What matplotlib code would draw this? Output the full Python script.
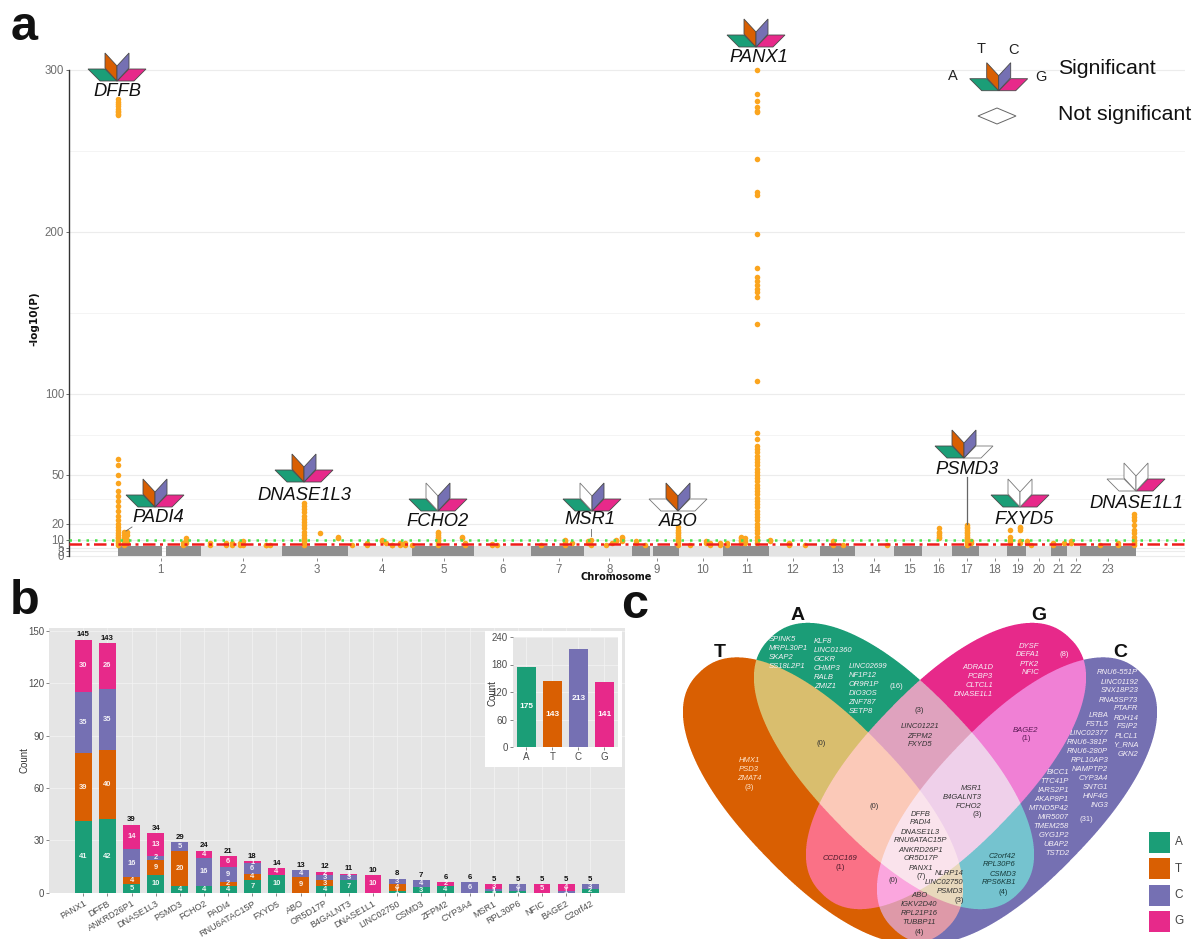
import numpy as np
import matplotlib
matplotlib.use("Agg")
import matplotlib.pyplot as plt
from matplotlib.patches import Polygon, Rectangle
from matplotlib.colors import to_rgb

plt.rcParams['font.family'] = ['Liberation Sans', 'DejaVu Sans']

W, H = 1192, 939
COL = dict(A='#1B9E77', T='#D95F02', C='#7570B3', G='#E7298A')
ORANGE = '#FBA51E'

# ---------------- panel a data ----------------
chrom_labels = [str(i) for i in range(1, 24)]
chrom_ticks = [160.7, 243, 317, 382, 444, 503, 559, 609.4, 656.6, 702.7, 747, 792.5,
               838, 874.4, 909.5, 938.6, 967, 995, 1018, 1038.6, 1058.7, 1076, 1107.7]
band_dark = [(118, 162), (166, 201), (282, 348), (412, 474), (531, 584), (632, 650),
             (653, 679), (723, 769), (820, 855), (894, 922), (952, 979), (1007, 1026),
             (1051, 1067), (1080, 1136)]
peak_pos = [118, 124, 127, 183, 186, 210, 226, 232, 240, 243, 266, 270, 303.5, 320, 338,
            352, 367, 382, 386, 392, 400, 405, 412, 438, 462, 465, 492, 497, 541, 565, 572,
            588, 591, 606, 612, 616, 622, 636, 645, 678, 690, 706, 710, 720, 727, 741,
            745, 757, 770, 789, 805, 833, 843, 887, 938.6, 967, 971, 1009.6, 1020, 1027,
            1031, 1053, 1064, 1071, 1100, 1118, 1134]
peak_vals = [
    [282, 280, 279, 278, 276, 275, 274, 273, 272, 60, 56, 50, 45, 40, 37, 34, 31, 28, 25, 22, 20,
     18, 16, 14, 13, 12, 11, 10, 9, 8, 7],
    [15, 13, 11, 9, 8, 7], [15, 13, 10, 8], [8, 7], [11, 10, 9, 8], [8, 7], [8, 7], [8, 7],
    [8, 7], [9, 7], [7, 6.5], [6.5], [33, 31, 29, 27, 25, 23, 21, 19, 17, 15, 13, 11, 10, 9, 8, 7],
    [14], [12, 11], [7], [8, 7], [10, 9], [8], [7, 6.5], [8, 7], [8, 7], [7],
    [15, 14, 13, 12, 11, 10, 9, 8, 7], [12, 11], [8, 7], [7.5, 6.5], [7], [7], [10, 9, 8, 7],
    [8], [9, 8], [10, 7], [7], [8], [9, 10], [12, 11, 10, 9], [9, 8], [7],
    [18, 16, 15, 14, 13, 12, 11, 10, 9, 8, 7], [7], [9, 8], [8, 7], [7, 8], [8, 7],
    [12, 11, 10, 9, 8], [11, 9, 8],
    [300, 285, 281, 277, 275, 274, 245, 225, 223, 199, 178, 172, 170, 167, 165, 163, 160, 143,
     108, 76, 72, 68, 66, 64, 62, 60, 58, 56, 54, 52, 50, 48, 46, 44, 42, 40, 38, 36, 34, 32, 30,
     28, 26, 24, 22, 20, 18, 16, 14, 12, 10, 8],
    [10, 9], [8, 7], [7], [9, 8, 7], [7], [7], [17, 15, 14, 13, 12, 11],
    [19, 18, 17, 16, 15, 14, 13, 12, 11, 10, 9, 8, 7], [9, 8], [16, 12, 10, 9, 8],
    [18, 17, 16, 9, 8], [9, 8], [7], [8, 7], [8], [9, 8], [7], [7, 8],
    [26, 24, 22, 19, 16, 14, 12, 10, 9, 8, 7],
]
line_suggestive = 10
line_significant = 7.5

genes = ['PANX1', 'DFFB', 'ANKRD26P1', 'DNASE1L3', 'PSMD3', 'FCHO2', 'PADI4', 'RNU6ATAC15P',
         'FXYD5', 'ABO', 'OR5D17P', 'B4GALNT3', 'DNASE1L1', 'LINC02750', 'CSMD3', 'ZFPM2',
         'CYP3A4', 'MSR1', 'RPL30P6', 'NFIC', 'BAGE2', 'C2orf42']
count_A = [41, 42, 5, 10, 4, 4, 4, 7, 10, 0, 4, 7, 0, 1, 3, 4, 0, 1, 1, 0, 0, 2]
count_T = [39, 40, 4, 9, 20, 0, 2, 4, 0, 9, 3, 0, 0, 4, 0, 0, 0, 0, 0, 0, 0, 0]
count_C = [35, 35, 16, 2, 5, 16, 9, 6, 0, 4, 3, 3, 0, 3, 4, 0, 6, 1, 4, 0, 1, 3]
count_G = [30, 26, 14, 13, 0, 4, 6, 1, 4, 0, 2, 1, 10, 0, 0, 2, 0, 3, 0, 5, 4, 0]
bases = ['A', 'T', 'C', 'G']
base_total = [175, 143, 213, 141]


def px_axes(l, t, r, b, **kw):
    return fig.add_axes([l / W, 1 - b / H, (r - l) / W, (b - t) / H], **kw)


fig = plt.figure(figsize=(W / 100, H / 100), dpi=100, facecolor='white')

# ---------------- panel a ----------------
ya0, ysc = 556, 1.62
ax = px_axes(69, 60, 1185, 558)
ax.set_xlim(69, 1185)
ax.set_ylim((ya0 - 558) / ysc, (ya0 - 60) / ysc)
for s in ['top', 'right', 'bottom', 'left']:
    ax.spines[s].set_visible(False)
ax.spines['left'].set_visible(True)
ax.spines['left'].set_bounds(0, 300)
ax.spines['left'].set_color('#333333')
ax.spines['left'].set_linewidth(1.0)
ax.set_yticks([0, 3, 5, 10, 20, 50, 100, 200, 300])
ax.set_yticklabels(['0', '3', '5', '10', '20', '50', '100', '200', '300'],
                   fontsize=8.3, color='#6e6e6e')
ax.set_yticks([15, 35, 75, 150, 250], minor=True)
ax.tick_params(axis='y', which='major', length=2.5, width=0.6, color='#555555', pad=1)
ax.tick_params(axis='y', which='minor', length=0)
ax.grid(axis='y', which='major', color='#ececec', lw=0.8)
ax.grid(axis='y', which='minor', color='#f3f3f3', lw=0.6)
ax.set_axisbelow(True)
ax.set_xticks(chrom_ticks)
ax.set_xticklabels(chrom_labels, fontsize=8.3, color='#6e6e6e')
ax.tick_params(axis='x', length=2.5, width=0.6, color='#777777', pad=2)
ax.add_patch(Rectangle((201, 0), 1136 - 201, 6, fc='#e3e3e3', ec='none', zorder=1.5))
for a, b in band_dark:
    ax.add_patch(Rectangle((a, 0), b - a, 6, fc='#8f8f8f', ec='none', zorder=1.6))
xs = np.concatenate([[p] * len(v) for p, v in zip(peak_pos, peak_vals)])
ys = np.concatenate(peak_vals)
ax.scatter(xs, ys, s=16, c=ORANGE, linewidths=0, zorder=2, clip_on=False)
ax.axhline(line_suggestive, color='#4be04b', lw=1.8, ls=(0, (1, 2.4)), zorder=3)
ax.axhline(line_significant, color='#ee1c1c', lw=1.8, ls=(0, (5, 1.8, 1.2, 1.8)), zorder=3)

# overlay in figure pixels
ov = fig.add_axes([0, 0, 1, 1], zorder=5)
ov.set_xlim(0, W)
ov.set_ylim(H, 0)
ov.axis('off')
ov.patch.set_alpha(0)


def T(x, y, s, size=5.5, color='#222222', ha='center', style='normal', weight='normal', **kw):
    ov.text(x, y, s, fontsize=size, color=color, ha=ha, va='center', style=style,
            fontweight=weight, **kw)


PETALS = dict(A=[(0, 0), (-17, 0), (-29, -12), (-12, -12)],
              G=[(0, 0), (17, 0), (29, -12), (12, -12)],
              T=[(0, 0), (0, -15), (-12, -28), (-12, -13)],
              C=[(0, 0), (0, -15), (12, -28), (12, -13)])


def glyph(cx, cy, filled='ATCG'):
    for b, pts in PETALS.items():
        ov.add_patch(Polygon([(cx + x, cy + y) for x, y in pts], closed=True,
                             fc=COL[b] if b in filled else 'white',
                             ec='#4a4a4a' if b in filled else '#777777', lw=0.6))


glyphs = [('DFFB', 117, 81, 'ATCG', 117, 92), ('PANX1', 756, 47, 'ATCG', 759, 58),
          ('PADI4', 155, 507, 'ATCG', 158, 517), ('DNASE1L3', 304, 482, 'ATCG', 304, 495),
          ('FCHO2', 438, 511, 'ACG', 437.5, 522), ('MSR1', 592, 511, 'ACG', 590, 519),
          ('ABO', 678, 511, 'TC', 678, 522), ('PSMD3', 964, 458, 'ATC', 967, 470),
          ('FXYD5', 1020, 507, 'AG', 1024, 519), ('DNASE1L1', 1136, 491, 'G', 1136, 503)]
for name, cx, cy, filled, lx, ly in glyphs:
    glyph(cx, cy, filled)
    T(lx, ly, name, size=13.2, color='#111111', style='italic')
ov.plot([967, 967], [477, 524], color='#666666', lw=0.9)
ov.plot([132, 126], [527, 531], color='#666666', lw=0.6)
ov.plot([591, 591], [529, 536], color='#666666', lw=0.6)

glyph(998.7, 90.7)
T(980.7, 49, 'T', size=10.5)
T(1013.5, 50, 'C', size=10.5)
T(953, 76, 'A', size=10.5)
T(1041, 77, 'G', size=10.5)
ov.add_patch(Polygon([(978, 116), (997, 108), (1016, 116), (997, 124)], closed=True,
                     fc='white', ec='#666666', lw=0.7))
T(1058, 68, 'Significant', size=15.3, ha='left', color='#111111')
T(1058, 114, 'Not significant', size=15.3, ha='left', color='#111111')
T(24, 27, 'a', size=35, weight='bold', color='#111111')
T(25, 601, 'b', size=35, weight='bold', color='#111111')
T(635, 605, 'c', size=35, weight='bold', color='#111111')
T(616, 577, 'Chromosome', size=7, weight='bold', color='#111111', family='DejaVu Sans')
T(34, 319, '-log10(P)', size=7.6, weight='bold', color='#111111', rotation=90, family='DejaVu Sans')

# ---------------- panel b ----------------
bx = px_axes(49, 628, 625, 892.7)
bx.set_facecolor('#e5e5e5')
pos = np.arange(len(genes))
bx.set_xlim(-1.42, 22.44)
bx.set_ylim(0, 151.7)
for s in bx.spines.values():
    s.set_visible(False)
bx.grid(True, color='#f4f4f4', lw=0.5)
bx.set_axisbelow(True)
bottom = np.zeros(len(genes))
for base, vals in zip(bases, [count_A, count_T, count_C, count_G]):
    bx.bar(pos, vals, 0.7, bottom=bottom, color=COL[base], lw=0)
    for i, v in enumerate(vals):
        if v:
            bx.text(i, bottom[i] + v / 2, str(v), color='white', fontsize=5.4, fontweight='bold',
                    ha='center', va='center', alpha=0.9)
    bottom = bottom + np.array(vals)
for i, t in enumerate(bottom):
    bx.text(i, t + 0.8, str(int(t)), color='#111111', fontsize=5.6, fontweight='bold',
            ha='center', va='bottom')
bx.set_yticks(range(0, 151, 30))
bx.set_xticks(pos)
bx.set_xticklabels(genes, rotation=30, ha='right', rotation_mode='anchor')
bx.tick_params(axis='y', labelsize=7, length=2, width=0.5, color='#555555', labelcolor='#4d4d4d', pad=1.5)
bx.tick_params(axis='x', labelsize=6.5, length=2, width=0.5, color='#555555', labelcolor='#4d4d4d', pad=2.5)
T(25, 760, 'Count', size=7, rotation=90, color='#333333')

# inset
ov.add_patch(Rectangle((485, 631), 136.7, 136, fc='white', ec='none'))
ix = px_axes(512.7, 637, 618, 747, zorder=6)
ix.set_facecolor('#e5e5e5')
for s in ix.spines.values():
    s.set_visible(False)
ix.grid(True, color='#f4f4f4', lw=0.5)
ix.set_axisbelow(True)
ix.bar(range(4), base_total, 0.7, color=[COL[b] for b in bases], lw=0)
for i, v in enumerate(base_total):
    ix.text(i, v / 2, str(v), color='white', fontsize=6, fontweight='bold', ha='center', va='center')
ix.set_xlim(-0.53, 3.52)
ix.set_ylim(0, 240)
ix.set_yticks([0, 60, 120, 180, 240])
ix.set_xticks(range(4))
ix.set_xticklabels(bases)
ix.tick_params(labelsize=7, length=2, width=0.5, color='#555555', labelcolor='#4d4d4d', pad=1.5)
ix.patch.set_zorder(0)
fig.text(492 / W, 1 - 693 / H, 'Count', fontsize=7, rotation=90, color='#333333',
         ha='center', va='center', zorder=7)

# ---------------- panel c: Venn ----------------
ELL = dict(T=(823, 800.5, 46), A=(894, 766, 46), G=(946, 766, -46), C=(1017, 800.5, -46))
MAJOR, MINOR, ROUND = 178, 80, 2.25
REGION = {'T': '#D95F02', 'A': '#1B9E77', 'G': '#E7298A', 'C': '#7570B3',
          'AT': '#D9BE6E', 'AG': '#DFA3BE', 'CG': '#F080D5', 'GT': '#FA7186', 'AC': '#75C3CF',
          'CT': '#DE9AA8', 'AGT': '#FBC9B9', 'ACG': '#EFD0EA', 'CGT': '#FBA6DE',
          'ACT': '#E8D8BC', 'ACGT': '#FAE3EC'}
SS = 4
vx0, vx1, vy0, vy1 = 670, 1170, 610, 945
gx = (np.arange((vx1 - vx0) * SS) + 0.5) / SS + vx0
gy = (np.arange((vy1 - vy0) * SS) + 0.5) / SS + vy0
X, Y = np.meshgrid(gx, gy)
member = {}
for k, (cx, cy, ang) in ELL.items():
    t = np.deg2rad(ang)
    u = (X - cx) * np.cos(t) + (Y - cy) * np.sin(t)
    v = -(X - cx) * np.sin(t) + (Y - cy) * np.cos(t)
    member[k] = np.abs(u / MAJOR) ** ROUND + np.abs(v / MINOR) ** ROUND <= 1
img = np.ones(X.shape + (4,))
img[..., 3] = 0
for key, col in REGION.items():
    m = np.ones(X.shape, bool)
    for k in 'ATCG':
        m &= member[k] if k in key else ~member[k]
    img[m] = to_rgb(col) + (1,)
# box-average down to figure pixels for clean edges
small = img.reshape(img.shape[0] // SS, SS, img.shape[1] // SS, SS, 4)
alpha = small[..., 3].mean(axis=(1, 3))
rgb = (small[..., :3] * small[..., 3:]).sum(axis=(1, 3)) / np.maximum(small[..., 3].sum(axis=(1, 3)), 1e-6)[..., None]
ov.imshow(np.dstack([rgb, alpha]), extent=(vx0, vx1, vy1, vy0), interpolation='nearest', zorder=1, aspect='auto')
ov.set_xlim(0, W)
ov.set_ylim(H, 0)

WT = '#f6f0f6'
DK = '#333333'


def block(x, y0, lines, ha='center', color=DK, step=9.0):
    for i, s in enumerate(lines):
        T(x, y0 + i * step, s, ha=ha, color=color, style='italic', zorder=3)


block(769, 639.3, ['SPINK5', 'MRPL30P1', 'SKAP2', 'SS18L2P1'], 'left', WT)
block(814, 641.7, ['KLF8', 'LINC01360', 'GCKR', 'CHMP3', 'RALB', 'ZMIZ1'], 'left', WT)
block(848.3, 666.7, ['LINC02699', 'NF1P12', 'OR9R1P', 'DIO3OS', 'ZNF787', 'SETP8'], 'left', WT)
T(896.7, 686.7, '(16)', color=WT)
block(749, 760.3, ['HMX1', 'PSD3', 'ZMAT4'], color='#ffe3c8')
T(749, 787.7, '(3)', color='#ffe3c8')
T(820.7, 743.7, '(0)', color=DK)
T(919, 710, '(3)', color=DK)
block(920, 727, ['LINC01221', 'ZFPM2', 'FXYD5'])
T(874, 806.7, '(0)', color=DK)
block(920.7, 814, ['DFFB', 'PADI4', 'DNASE1L3', 'RNU6ATAC15P', 'ANKRD26P1', 'OR5D17P', 'PANX1'])
T(920.7, 876, '(7)', color=DK)
block(840, 859, ['CCDC169'], color='#4a1a2a')
T(840, 867.7, '(1)', color='#4a1a2a')
T(893, 880, '(0)', color=DK)
block(919, 895.3, ['ABO', 'IGKV2D40', 'RPL21P16', 'TUBBP11'])
T(919, 932.3, '(4)', color=DK)
block(963.3, 873.7, ['NLRP14', 'LINC02750', 'PSMD3'], 'right')
T(959.3, 900.3, '(3)', color=DK)
block(1016, 856, ['C2orf42', 'RPL30P6', 'CSMD3', 'RPS6KB1'], 'right', '#163a3a')
T(1003, 892, '(4)', color='#163a3a')
block(981.7, 788.3, ['MSR1', 'B4GALNT3', 'FCHO2'], 'right')
T(976.7, 814.3, '(3)', color=DK)
block(1026, 730, ['BAGE2'], color='#5a1a55')
T(1026, 738.7, '(1)', color='#5a1a55')
block(1039.3, 646, ['DYSF', 'DEFA1', 'PTK2', 'NFIC'], 'right', WT)
T(1064.3, 654.3, '(8)', color=WT)
block(993.3, 667.3, ['ADRA1D', 'PCBP3', 'CLTCL1', 'DNASE1L1'], 'right', WT)
block(1138.3, 673, ['RNU6-551P', 'LINC01192', 'SNX18P23', 'RNA5SP73', 'PTAFR'], 'right', WT)
block(1138.3, 718, ['RDH14', 'FSIP2', 'PLCL1', 'Y_RNA', 'GKN2'], 'right', WT)
block(1108.3, 715.7, ['LRBA', 'FSTL5', 'LINC02377', 'RNU6-381P', 'RNU6-280P', 'RPL10AP3',
                      'NAMPTP2', 'CYP3A4', 'SNTG1', 'HNF4G', 'ING3'], 'right', WT)
block(1069, 772.7, ['BICC1', 'TTC41P', 'IARS2P1', 'AKAP8P1', 'MTND5P42', 'MIR5007', 'TMEM258',
                    'GYG1P2', 'UBAP2', 'TSTD2'], 'right', WT)
T(1086, 819.3, '(31)', color=WT)
for (x, y, s) in [(720, 652.7, 'T'), (797.7, 615, 'A'), (1039, 615, 'G'), (1120.7, 652.7, 'C')]:
    T(x, y, s, size=14, weight='bold', color='#111111', zorder=3)
for yy, b in zip([831.7, 858.3, 884.7, 911], bases):
    ov.add_patch(Rectangle((1149, yy), 21, 21, fc=COL[b], ec='none', zorder=3))
    T(1178.7, yy + 10.5, b, size=8.5, color='#444444', zorder=3)

fig.savefig('out.png', dpi=100)
